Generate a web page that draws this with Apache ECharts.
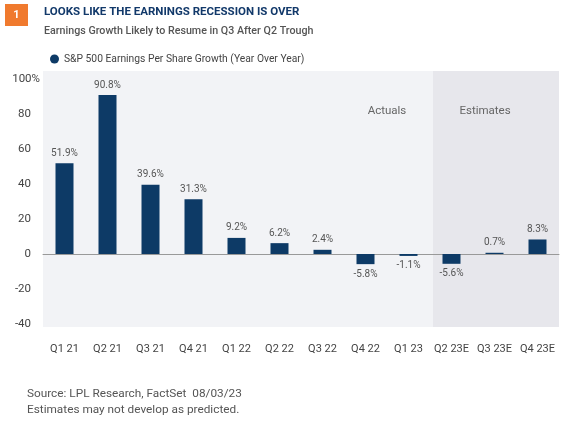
<!DOCTYPE html>
<html>
<head>
<meta charset="utf-8">
<script src="https://cdn.jsdelivr.net/npm/echarts@6/dist/echarts.min.js"></script>
<style>
html,body{margin:0;padding:0;background:#fff;}
#c{width:570px;height:427px;}
</style>
</head>
<body>
<div id="c"></div>
<script>
const categories = ['Q1 21','Q2 21','Q3 21','Q4 21','Q1 22','Q2 22','Q3 22','Q4 22','Q1 23','Q2 23E','Q3 23E','Q4 23E'];
const epsGrowth = [51.9, 90.8, 39.6, 31.3, 9.2, 6.2, 2.4, -5.8, -1.1, -5.6, 0.7, 8.3];
const yTicks = [-40, -20, 0, 20, 40, 60, 80, 100];
const firstEstimate = 'Q2 23E';

const FONT = 'Roboto, "Open Sans", sans-serif';
const NAVY = '#0d3a66';
const chart = echarts.init(document.getElementById('c'));

const barData = epsGrowth.map(v => ({
  value: v,
  label: { position: v >= 0 ? 'top' : 'bottom' }
}));

const gridL = 43, gridR = 11, gridT = 79, gridB = 103;

chart.setOption({
  animation: false,
  textStyle: { fontFamily: FONT },
  title: [
    { text: 'LOOKS LIKE THE EARNINGS RECESSION IS OVER', left: 39, top: 1,
      textStyle: { fontFamily: FONT, fontSize: 11.5, fontWeight: 'bold', color: '#12396a' } },
    { text: 'Earnings Growth Likely to Resume in Q3 After Q2 Trough', left: 39, top: 21,
      textStyle: { fontFamily: FONT, fontSize: 10.7, fontWeight: 500, color: '#555' } },
    { text: 'Source: LPL Research, FactSet  08/03/23', left: 22, top: 383,
      textStyle: { fontFamily: FONT, fontSize: 11.8, fontWeight: 'normal', color: '#555' } },
    { text: 'Estimates may not develop as predicted.', left: 22, top: 399,
      textStyle: { fontFamily: FONT, fontSize: 11.8, fontWeight: 'normal', color: '#555' } }
  ],
  legend: {
    left: 45, top: 49, icon: 'circle', itemWidth: 9, itemHeight: 9, itemGap: 5,
    textStyle: { fontFamily: FONT, fontSize: 10.3, color: '#444' },
    data: ['S&P 500 Earnings Per Share Growth (Year Over Year)']
  },
  grid: { left: gridL, right: gridR, top: gridT, bottom: gridB },
  xAxis: {
    type: 'category', data: categories,
    axisTick: { show: false },
    axisLine: { onZero: true, lineStyle: { color: '#999', width: 1 } },
    axisLabel: { margin: 20, color: '#444', fontSize: 11, fontFamily: FONT, interval: 0 }
  },
  yAxis: {
    type: 'value', min: yTicks[0], max: yTicks[yTicks.length - 1], interval: 20,
    splitLine: { show: false }, axisLine: { show: false }, axisTick: { show: false },
    axisLabel: {
      margin: 12, color: '#444', fontSize: 11.5, fontFamily: FONT,
      formatter: v => v === 100 ? '{h|100%}' : String(v),
      rich: { h: { padding: [0, -9, 0, 0], fontSize: 11.5, color: '#444', fontFamily: FONT } }
    }
  },
  series: [{
    name: 'S&P 500 Earnings Per Share Growth (Year Over Year)',
    type: 'bar', data: barData, barWidth: 18,
    itemStyle: { color: NAVY },
    label: {
      show: true, distance: 5, color: '#555', fontSize: 10, fontFamily: FONT,
      formatter: p => p.value.toFixed(1) + '%'
    }
  }],
  color: [NAVY]
});

// Decorative backgrounds derived from the axis geometry
const W = 570, H = 427;
const plotW = W - gridL - gridR;
const band = plotW / categories.length;
const estX = chart.convertToPixel({ xAxisIndex: 0 }, firstEstimate) - band / 2;
const bgTop = 71, bgBot = 327;
const actualsCx = chart.convertToPixel({ xAxisIndex: 0 }, 'Q4 22') + band * 0.5;
const estCx = estX + 55;

chart.setOption({
  graphic: [
    { type: 'rect', z: -10, silent: true,
      shape: { x: gridL, y: bgTop, width: plotW, height: bgBot - bgTop },
      style: { fill: '#f2f3f6' } },
    { type: 'rect', z: -9, silent: true,
      shape: { x: estX + 3, y: bgTop, width: (W - gridR) - estX - 3, height: bgBot - bgTop },
      style: { fill: '#e7e7ec' } },
    { type: 'text', z: 5, silent: true, x: actualsCx, y: 111,
      style: { text: 'Actuals', fill: '#666', font: '11.5px ' + FONT, textAlign: 'center', textVerticalAlign: 'middle' } },
    { type: 'text', z: 5, silent: true, x: estCx, y: 111,
      style: { text: 'Estimates', fill: '#666', font: '11.5px ' + FONT, textAlign: 'center', textVerticalAlign: 'middle' } },
    { type: 'rect', z: 5, silent: true, shape: { x: 5, y: 4, width: 23, height: 22 }, style: { fill: '#f07a2e' } },
    { type: 'text', z: 6, silent: true, x: 16.5, y: 15,
      style: { text: '1', fill: '#fff', font: 'bold 11px ' + FONT, textAlign: 'center', textVerticalAlign: 'middle' } }
  ]
});
</script>
</body>
</html>
